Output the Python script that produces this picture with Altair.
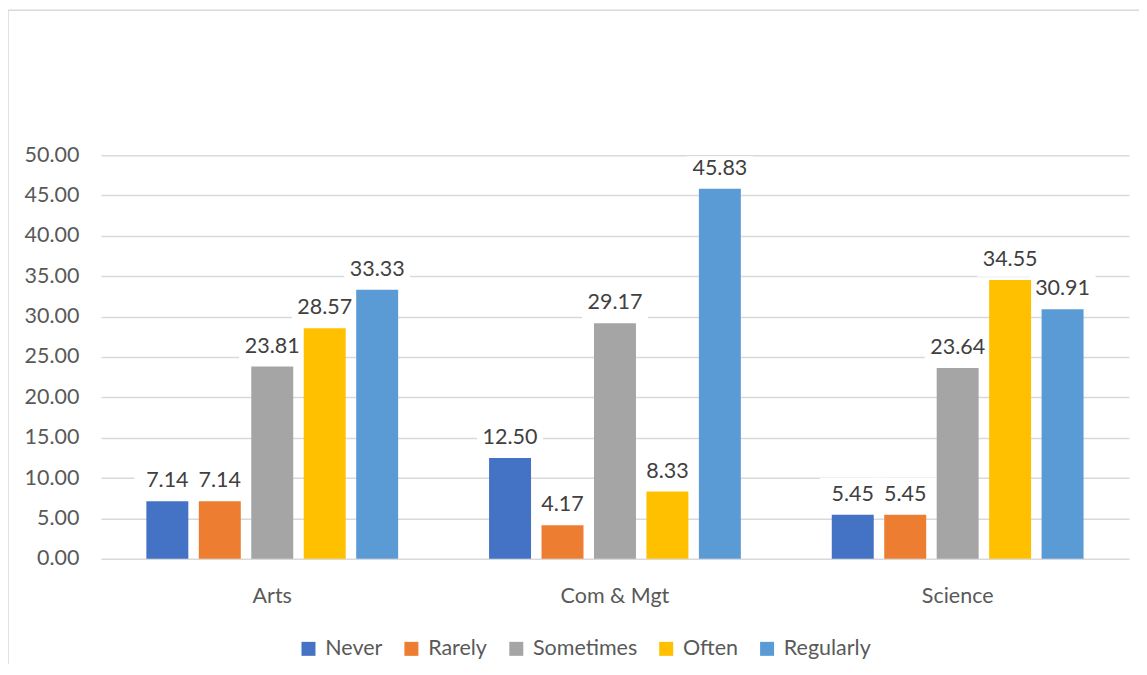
import altair as alt
import pandas as pd

streams = ["Arts", "Com & Mgt", "Science"]
levels = ["Never", "Rarely", "Sometimes", "Often", "Regularly"]
colors = ["#4472C4", "#ED7D31", "#A5A5A5", "#FFC000", "#5B9BD5"]
never = [7.14, 12.50, 5.45]
rarely = [7.14, 4.17, 5.45]
sometimes = [23.81, 29.17, 23.64]
often = [28.57, 8.33, 34.55]
regularly = [33.33, 45.83, 30.91]
y_ticks = [0, 5, 10, 15, 20, 25, 30, 35, 40, 45, 50]

series = [never, rarely, sometimes, often, regularly]
rows = []
for lvl, vals in zip(levels, series):
    for s, v in zip(streams, vals):
        rows.append({"stream": s, "level": lvl, "value": v,
                     "box_lo": v + 0.4, "box_hi": min(v + 4.6, 49.85),
                     "label": f"{v:.2f}"})
df = pd.DataFrame(rows)

FONT = "Lato"
FS = 21.5
W, H = 1029, 404

x_enc = alt.X("stream:N", sort=streams, title=None,
              scale=alt.Scale(paddingInner=0.2347, paddingOuter=0.1173),
              axis=alt.Axis(labelFontSize=FS, labelColor="#595959", labelFont=FONT,
                            ticks=False, domain=False, labelPadding=27, labelAngle=0))
xo_enc = alt.XOffset("level:N", sort=levels,
                     scale=alt.Scale(paddingInner=0.2, paddingOuter=0.1))
y_scale = alt.Scale(domain=[0, 50], nice=False)

base = alt.Chart(df)

boxes = base.mark_bar(color="white", size=66).encode(
    x=x_enc, xOffset=xo_enc,
    y=alt.Y("box_lo:Q", scale=y_scale),
    y2="box_hi:Q",
)

bars = base.mark_bar().encode(
    x=x_enc, xOffset=xo_enc,
    y=alt.Y("value:Q", scale=y_scale, title=None,
            axis=alt.Axis(values=y_ticks, format=".2f", labelFontSize=FS,
                          labelColor="#595959", labelFont=FONT, ticks=False,
                          domain=False, grid=True, gridColor="#d9d9d9",
                          gridWidth=1.5, labelPadding=22)),
    color=alt.Color("level:N", sort=levels,
                    scale=alt.Scale(domain=levels, range=colors),
                    legend=alt.Legend(title=None, orient="none", direction="horizontal",
                                      legendX=197, legendY=483, symbolType="square",
                                      symbolSize=196, symbolStrokeWidth=0,
                                      labelFontSize=FS, labelFont=FONT,
                                      labelColor="#595959", labelOffset=6,
                                      columnPadding=18, columns=5)),
)

texts = base.mark_text(baseline="alphabetic", dy=-14, fontSize=FS, font=FONT,
                       color="#404040").encode(
    x=x_enc, xOffset=xo_enc,
    y=alt.Y("value:Q", scale=y_scale),
    text="label:N",
)

border_top = alt.Chart(pd.DataFrame({"a": [0]})).mark_rule(
    color="#d9d9d9", strokeWidth=1.5).encode(
    x=alt.value(-93), x2=alt.value(1060), y=alt.value(-145))
border_left = alt.Chart(pd.DataFrame({"a": [0]})).mark_rule(
    color="#d9d9d9", strokeWidth=1.5).encode(
    x=alt.value(-93), y=alt.value(-145), y2=alt.value(520))

chart = alt.layer(boxes, bars, texts, border_top, border_left).properties(
    width=W, height=H,
    autosize=alt.AutoSizeParams(type="none"),
    padding={"left": 93, "top": 147, "right": 10, "bottom": 105},
).configure(background="white").configure_view(stroke=None)

chart.save("out.html", embed_options={"renderer": "svg", "actions": False})
